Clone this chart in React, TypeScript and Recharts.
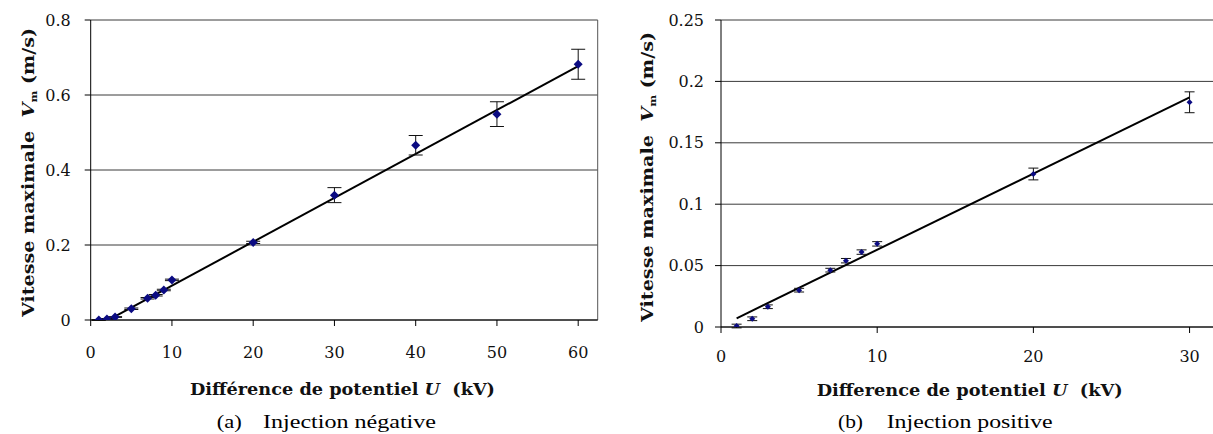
import React from "react";
import {
  ComposedChart,
  Scatter,
  XAxis,
  YAxis,
  CartesianGrid,
  ErrorBar,
  ReferenceLine,
} from "recharts";

// (a) Injection négative
const negU = [1, 2, 3, 5, 7, 8, 9, 10, 20, 30, 40, 50, 60];
const negV = [0.0, 0.003, 0.008, 0.03, 0.058, 0.066, 0.08, 0.107, 0.207, 0.333, 0.466, 0.549, 0.682];
const negErr = [0.001, 0.001, 0.001, 0.002, 0.002, 0.002, 0.002, 0.002, 0.003, 0.02, 0.026, 0.033, 0.04];
const negFitU = [2.6, 60];
const negFitV = [0.005, 0.677];
const negXTicks = [0, 10, 20, 30, 40, 50, 60];
const negYTicks = [0, 0.2, 0.4, 0.6, 0.8];
const negXMax = 62.4;

// (b) Injection positive
const posU = [1, 2, 3, 5, 7, 8, 9, 10, 20, 30];
const posV = [0.0008, 0.0067, 0.0165, 0.03, 0.0463, 0.054, 0.061, 0.0677, 0.1246, 0.183];
const posErr = [0.0015, 0.0015, 0.0015, 0.0015, 0.0015, 0.0018, 0.0018, 0.0018, 0.0048, 0.0085];
const posFitU = [1, 30];
const posFitV = [0.0071, 0.187];
const posXTicks = [0, 10, 20, 30];
const posYTicks = [0, 0.05, 0.1, 0.15, 0.2, 0.25];
const posXMax = 31.5;

const negData = negU.map((u, i) => ({ x: u, y: negV[i], err: negErr[i] }));
const posData = posU.map((u, i) => ({ x: u, y: posV[i], err: posErr[i] }));

const NAVY = "#0b0b82";
const TICK_FONT = "'DejaVu Serif', serif";

const diamond = (r: number) => (props: any) => {
  const { cx, cy } = props;
  if (cx == null || cy == null) return <g />;
  return (
    <path
      d={`M${cx},${cy - r} L${cx + r},${cy} L${cx},${cy + r} L${cx - r},${cy} Z`}
      fill={NAVY}
    />
  );
};

const tickStyle = { fill: "#111", fontSize: 16, fontFamily: TICK_FONT };

const YLabel = ({ x, y, len }: { x: number; y: number; len: number }) => (
  <text
    transform={`translate(${x},${y}) rotate(-90)`}
    textAnchor="middle"
    fontFamily={TICK_FONT}
    fontWeight="bold"
    fontSize={17}
    fill="#111"
    textLength={len}
    lengthAdjust="spacingAndGlyphs"
  >
    Vitesse maximale{"\u00A0\u00A0"}
    <tspan fontStyle="italic">V</tspan>
    <tspan fontSize={10} dy={3}>m</tspan>
    <tspan dy={-3}>{"\u00A0"}(m/s)</tspan>
  </text>
);

const XLabel = ({ x, y, len, word }: { x: number; y: number; len: number; word: string }) => (
  <text
    x={x}
    y={y}
    fontFamily={TICK_FONT}
    fontWeight="bold"
    fontSize={16}
    fill="#111"
    textLength={len}
    lengthAdjust="spacingAndGlyphs"
  >
    {word} de potentiel{"\u00A0"}
    <tspan fontStyle="italic">U</tspan>
    {"\u00A0\u00A0"}(kV)
  </text>
);

const Caption = ({ x1, x2, len, tag, text }: { x1: number; x2: number; len: number; tag: string; text: string }) => (
  <g fontFamily="'Liberation Serif', serif" fontSize={19} fill="#000">
    <text x={x1} y={428} textLength={25} lengthAdjust="spacingAndGlyphs">{tag}</text>
    <text x={x2} y={428} textLength={len} lengthAdjust="spacingAndGlyphs">{text}</text>
  </g>
);

export default function App() {
  return (
    <div style={{ position: "absolute", left: 0, top: 0, width: 1213, height: 434, background: "#fff" }}>
      <div style={{ position: "absolute", left: 0, top: 0 }}>
        <ComposedChart
          width={610}
          height={434}
          data={negData}
          margin={{ top: 20, right: 12.3, left: 30.7, bottom: 84 }}
        >
          <CartesianGrid horizontal vertical={false} stroke="#3a3a3a" strokeOpacity={1} />
          <XAxis
            type="number"
            dataKey="x"
            domain={[0, negXMax]}
            ticks={negXTicks}
            allowDataOverflow
            height={30}
            tickSize={6}
            tickMargin={21}
            tick={tickStyle}
            axisLine={{ stroke: "#000" }}
            tickLine={{ stroke: "#000" }}
          />
          <YAxis
            type="number"
            dataKey="y"
            domain={[0, 0.8]}
            ticks={negYTicks}
            allowDataOverflow
            width={60}
            tickSize={6}
            tickMargin={14}
            tick={tickStyle}
            axisLine={{ stroke: "#000" }}
            tickLine={{ stroke: "#000" }}
          />
          <ReferenceLine x={negXMax} stroke="#555" ifOverflow="visible" />
          <ReferenceLine
            segment={[
              { x: negFitU[0], y: negFitV[0] },
              { x: negFitU[1], y: negFitV[1] },
            ]}
            stroke="#000"
            strokeWidth={2}
          />
          <Scatter data={negData} dataKey="y" shape={diamond(4.5)} isAnimationActive={false}>
            <ErrorBar dataKey="err" direction="y" width={7} stroke="#111" strokeWidth={1} isAnimationActive={false} />
          </Scatter>
          <YLabel x={34} y={172.5} len={289} />
          <XLabel x={190} y={395} len={305} word="Différence" />
          <Caption x1={216.7} x2={263} len={173} tag="(a)" text="Injection négative" />
        </ComposedChart>
      </div>
      <div style={{ position: "absolute", left: 610, top: 0 }}>
        <ComposedChart
          width={603}
          height={434}
          data={posData}
          margin={{ top: 20, right: 0, left: 51, bottom: 77 }}
        >
          <CartesianGrid horizontal vertical={false} stroke="#3a3a3a" strokeOpacity={1} />
          <XAxis
            type="number"
            dataKey="x"
            domain={[0, posXMax]}
            ticks={posXTicks}
            allowDataOverflow
            height={30}
            tickSize={6}
            tickMargin={18}
            tick={tickStyle}
            axisLine={{ stroke: "#000" }}
            tickLine={{ stroke: "#000" }}
          />
          <YAxis
            type="number"
            dataKey="y"
            domain={[0, 0.25]}
            ticks={posYTicks}
            allowDataOverflow
            width={60}
            tickSize={6}
            tickMargin={11}
            tick={tickStyle}
            axisLine={{ stroke: "#000" }}
            tickLine={{ stroke: "#000" }}
          />
          <ReferenceLine
            segment={[
              { x: posFitU[0], y: posFitV[0] },
              { x: posFitU[1], y: posFitV[1] },
            ]}
            stroke="#000"
            strokeWidth={2}
          />
          <Scatter data={posData} dataKey="y" shape={diamond(3)} isAnimationActive={false}>
            <ErrorBar dataKey="err" direction="y" width={5} stroke="#111" strokeWidth={1} isAnimationActive={false} />
          </Scatter>
          <YLabel x={43} y={177} len={290} />
          <XLabel x={206.7} y={395.5} len={306} word="Difference" />
          <Caption x1={228} x2={276.7} len={166} tag="(b)" text="Injection positive" />
        </ComposedChart>
      </div>
    </div>
  );
}
